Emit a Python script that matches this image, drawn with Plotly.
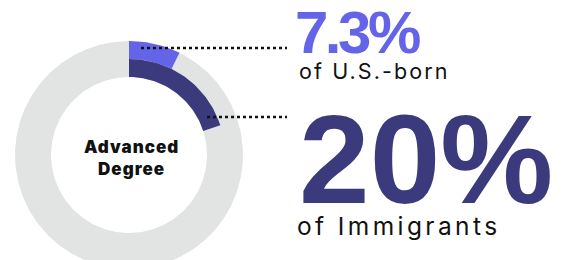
import numpy as np
import plotly.graph_objects as go

# ---- data ----
groups = ["U.S.-born", "Immigrants"]
shares = [7.3, 20.0]            # percent with an advanced degree
big_labels = ["7.3%", "20%"]
sub_labels = ["of U.S.-born", "of Immigrants"]
center_lines = ["Advanced", "Degree"]

# ---- styling / geometry (pixel-like data units) ----
W, H = 565, 260
CX, CY = 129, 155
R_IN, R_MID, R_OUT = 78, 96, 114
GRAY = "#E1E4E3"
PURPLE = "#6464E8"
NAVY = "#3A3A7C"


def band(f0, f1, r_in, r_out, n=240):
    t = np.linspace(f0, f1, max(int(n * (f1 - f0)) + 2, 8)) * 2 * np.pi
    xo = CX + r_out * np.sin(t)
    yo = CY - r_out * np.cos(t)
    xi = CX + r_in * np.sin(t[::-1])
    yi = CY - r_in * np.cos(t[::-1])
    return np.concatenate([xo, xi]), np.concatenate([yo, yi])


def spaced(txt, px):
    return f"<span style='letter-spacing:{px}px'>{txt}</span>"


fig = go.Figure()

# background ring
bx, by = band(0, 1, R_IN, R_OUT, n=400)
fig.add_trace(go.Scatter(x=bx, y=by, fill="toself", fillcolor=GRAY, mode="lines",
                         line=dict(width=0, color=GRAY), hoverinfo="skip", showlegend=False))

# U.S.-born: outer half of ring
px_, py_ = band(0, shares[0] / 100, R_MID, R_OUT)
fig.add_trace(go.Scatter(x=px_, y=py_, fill="toself", fillcolor=PURPLE, mode="lines",
                         line=dict(width=0, color=PURPLE), name=groups[0], showlegend=False))
# Immigrants: inner half of ring
nx_, ny_ = band(0, shares[1] / 100, R_IN, R_MID)
fig.add_trace(go.Scatter(x=nx_, y=ny_, fill="toself", fillcolor=NAVY, mode="lines",
                         line=dict(width=0, color=NAVY), name=groups[1], showlegend=False))

# dotted connectors
for (x0, y0) in [(141, 48), (207, 117)]:
    fig.add_shape(type="line", x0=x0, x1=287, y0=y0, y1=y0, xref="x", yref="y",
                  line=dict(color="#111111", width=2.5, dash="3px,3px"))

ann = []
ann.append(dict(text=spaced(big_labels[0], -3.5), x=293, y=32.2, xanchor="left", yanchor="middle",
                font=dict(family="Liberation Sans", size=60, color=PURPLE, weight=700)))
ann.append(dict(text=spaced(sub_labels[0], 2.1), x=297, y=71.0, xanchor="left", yanchor="middle",
                font=dict(family="Inter", size=21.5, color="#111111", weight=400)))
ann.append(dict(text=spaced(big_labels[1], 0), x=297, y=159, xanchor="left", yanchor="middle",
                font=dict(family="Liberation Sans", size=127, color=NAVY, weight=700)))
ann.append(dict(text=spaced(sub_labels[1], 3.4), x=295, y=226.0, xanchor="left", yanchor="middle",
                font=dict(family="Inter", size=24.5, color="#111111", weight=400)))
ann.append(dict(text="<br>".join(spaced(s, 1.0) for s in center_lines), x=131, y=158,
                xanchor="center", yanchor="middle",
                font=dict(family="Inter", size=17, color="#111111", weight=900)))
for a in ann:
    a.update(xref="x", yref="y", showarrow=False)
fig.update_layout(annotations=ann)

fig.update_layout(
    width=W, height=H, margin=dict(l=0, r=0, t=0, b=0),
    paper_bgcolor="white", plot_bgcolor="white",
    xaxis=dict(range=[0, W], visible=False, fixedrange=True),
    yaxis=dict(range=[H, 0], visible=False, fixedrange=True),
)

fig.write_html("out.html", config={"displayModeBar": False},
               post_script="document.body.style.margin='0px';")
